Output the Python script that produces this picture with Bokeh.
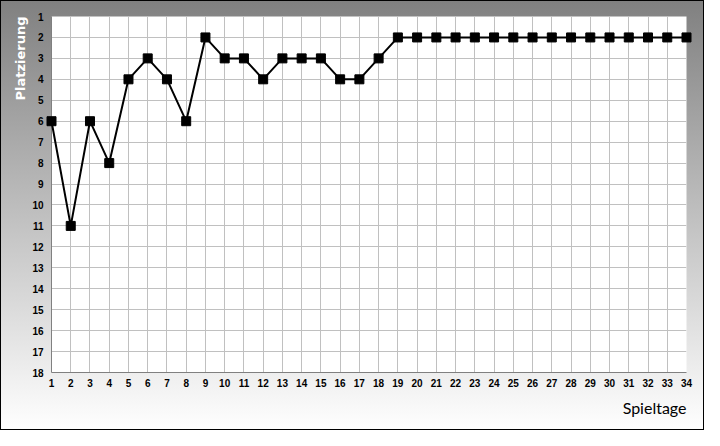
from bokeh.plotting import figure
from bokeh.models import Range1d, FixedTicker, Title
from bokeh.embed import file_html
from bokeh.resources import INLINE

# Data
matchdays = [1, 2, 3, 4, 5, 6, 7, 8, 9, 10, 11, 12, 13, 14, 15, 16, 17,
             18, 19, 20, 21, 22, 23, 24, 25, 26, 27, 28, 29, 30, 31, 32, 33, 34]
positions = [6, 11, 6, 8, 4, 3, 4, 6, 2, 3, 3, 4, 3, 3, 3, 4, 4,
             3, 2, 2, 2, 2, 2, 2, 2, 2, 2, 2, 2, 2, 2, 2, 2, 2]
rank_ticks = [1, 2, 3, 4, 5, 6, 7, 8, 9, 10, 11, 12, 13, 14, 15, 16, 17, 18]
y_title = "Platzierung"
x_title = "Spieltage"

p = figure(
    width=704, height=430,
    x_range=Range1d(1, 34), y_range=Range1d(18, 1),
    output_backend="svg", toolbar_location=None,
    min_border_left=51, min_border_right=18,
    min_border_top=16, min_border_bottom=58,
    background_fill_color="white",
    border_fill_alpha=0,
    outline_line_color=None,
    styles={
        "background": "linear-gradient(to bottom, #808080 0%, #ffffff 100%)",
        "outline": "1px solid black",
        "outline-offset": "-1px",
    },
)

for ax in (p.xaxis, p.yaxis):
    ax.major_tick_in = 0
    ax.major_tick_out = 0
    ax.minor_tick_in = 0
    ax.minor_tick_out = 0
    ax.axis_line_color = "#808080"
    ax.axis_line_width = 1
    ax.major_label_text_font = "Liberation Sans"
    ax.major_label_text_font_style = "bold"
    ax.major_label_text_font_size = "10px"
    ax.major_label_text_color = "black"

p.xaxis.ticker = FixedTicker(ticks=matchdays)
p.yaxis.ticker = FixedTicker(ticks=rank_ticks)
p.xaxis.major_label_standoff = 6
p.yaxis.major_label_standoff = 8

p.xgrid.ticker = FixedTicker(ticks=matchdays)
p.ygrid.ticker = FixedTicker(ticks=rank_ticks)
p.grid.grid_line_color = "#c0c0c0"
p.grid.grid_line_width = 1

p.line(matchdays, positions, line_color="black", line_width=2, level="overlay")
p.scatter(matchdays, positions, marker="square", size=9,
          fill_color="black", line_color="black", level="overlay")

p.add_layout(Title(text=y_title, align="right", text_color="white",
                   text_font="DejaVu Sans", text_font_style="bold",
                   text_font_size="13px", standoff=4, offset=0), "left")
p.add_layout(Title(text=x_title, align="right", text_color="black",
                   text_font="Lato", text_font_style="normal",
                   text_font_size="16px", standoff=13, offset=0), "below")

open("out.html", "w").write(file_html(p, INLINE))
